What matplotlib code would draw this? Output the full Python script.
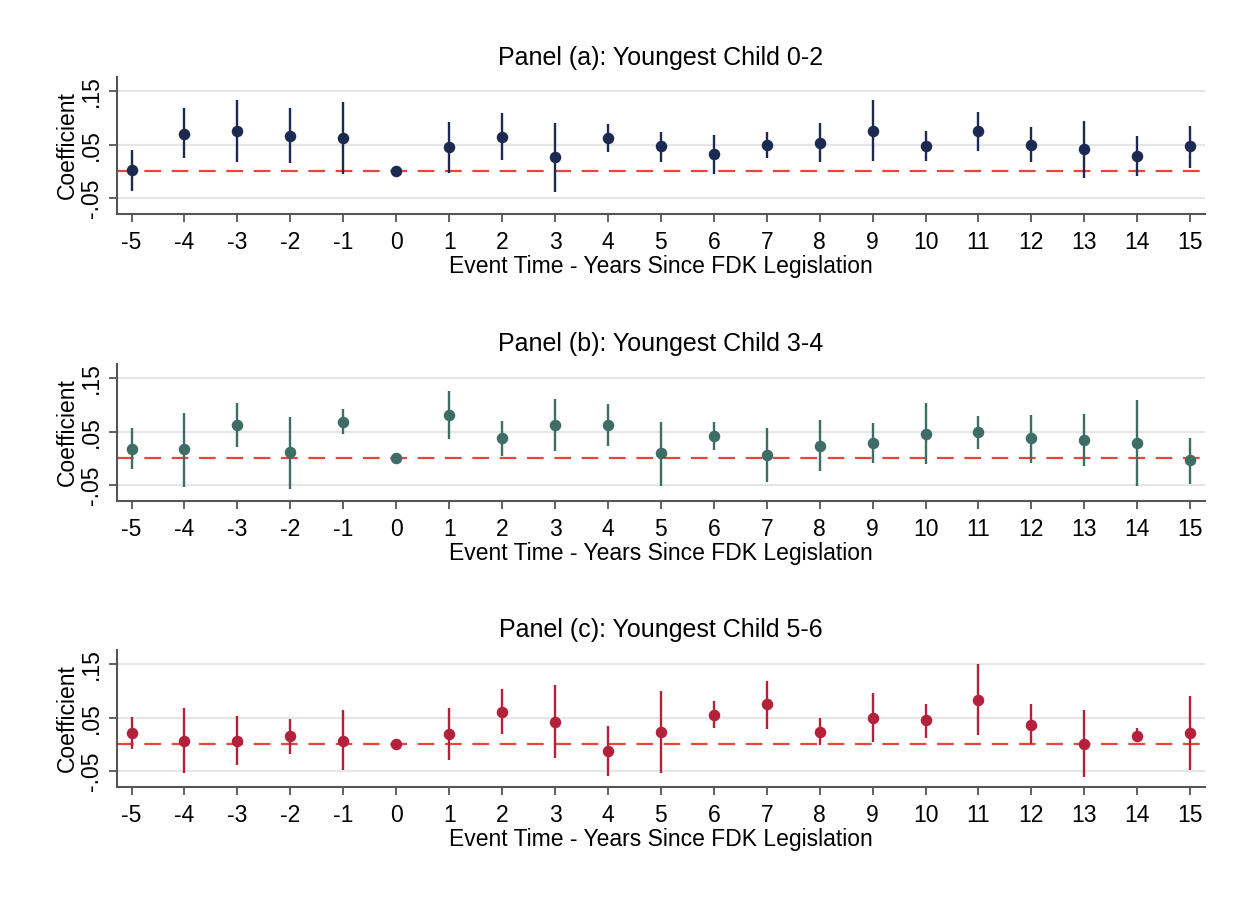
import matplotlib
matplotlib.use("Agg")
import matplotlib.pyplot as plt

plt.rcParams['font.family'] = ['Liberation Sans', 'DejaVu Sans']

event_time = list(range(-5, 16))

# Panel (a): Youngest Child 0-2
coef_a = [0.002, 0.071, 0.075, 0.067, 0.063, 0.000, 0.045, 0.065, 0.026, 0.063,
          0.047, 0.032, 0.050, 0.054, 0.076, 0.048, 0.075, 0.050, 0.041, 0.029, 0.047]
hi_a = [0.040, 0.118, 0.133, 0.119, 0.131, 0.000, 0.092, 0.110, 0.091, 0.088,
        0.074, 0.069, 0.074, 0.090, 0.133, 0.075, 0.112, 0.083, 0.095, 0.067, 0.086]
lo_a = [-0.036, 0.025, 0.018, 0.015, -0.005, 0.000, -0.003, 0.021, -0.039, 0.037,
        0.018, -0.005, 0.025, 0.017, 0.020, 0.020, 0.039, 0.018, -0.013, -0.009, 0.007]

# Panel (b): Youngest Child 3-4
coef_b = [0.018, 0.017, 0.062, 0.011, 0.069, 0.000, 0.082, 0.038, 0.062, 0.062,
          0.010, 0.042, 0.006, 0.024, 0.029, 0.046, 0.049, 0.038, 0.034, 0.029, -0.004]
hi_b = [0.057, 0.086, 0.103, 0.078, 0.092, 0.000, 0.127, 0.070, 0.111, 0.102,
        0.069, 0.069, 0.057, 0.072, 0.066, 0.103, 0.080, 0.082, 0.083, 0.109, 0.039]
lo_b = [-0.020, -0.053, 0.022, -0.057, 0.045, 0.000, 0.036, 0.004, 0.013, 0.023,
        -0.051, 0.015, -0.044, -0.023, -0.008, -0.011, 0.018, -0.008, -0.015, -0.051, -0.048]

# Panel (c): Youngest Child 5-6
coef_c = [0.022, 0.007, 0.007, 0.015, 0.007, 0.000, 0.019, 0.061, 0.042, -0.012,
          0.023, 0.056, 0.075, 0.024, 0.050, 0.045, 0.084, 0.037, 0.001, 0.016, 0.021]
hi_c = [0.052, 0.068, 0.054, 0.048, 0.064, 0.000, 0.068, 0.103, 0.111, 0.035,
        0.100, 0.081, 0.119, 0.049, 0.096, 0.076, 0.151, 0.076, 0.065, 0.030, 0.090]
lo_c = [-0.008, -0.054, -0.039, -0.018, -0.049, 0.000, -0.030, 0.019, -0.026, -0.060,
        -0.054, 0.031, 0.029, -0.001, 0.005, 0.012, 0.017, 0.000, -0.062, 0.004, -0.049]

titles = ["Panel (a): Youngest Child 0-2",
          "Panel (b): Youngest Child 3-4",
          "Panel (c): Youngest Child 5-6"]
colors = ["#1c2a52", "#3d6d64", "#b3223a"]
ytick_vals = [-0.05, 0.05, 0.15]
ytick_labels = ["-.05", ".05", ".15"]
xlabel = "Event Time - Years Since FDK Legislation"
ylabel = "Coefficient"

panels = [(coef_a, lo_a, hi_a), (coef_b, lo_b, hi_b), (coef_c, lo_c, hi_c)]

W, H = 1252, 899
fig = plt.figure(figsize=(W / 100, H / 100), dpi=100)
fig.patch.set_facecolor("white")

# axes boxes in pixels: (top, bottom)
boxes = [(77, 214), (364, 501), (650, 787)]
left_px, right_px = 117, 1205

for (coef, lo, hi), title, col, (top, bot) in zip(panels, titles, colors, boxes):
    ax = fig.add_axes([left_px / W, 1 - bot / H, (right_px - left_px) / W, (bot - top) / H])
    ax.set_xlim(-5.275, 15.28)
    ax.set_ylim(-0.08, 0.177)
    for yv in ytick_vals:
        ax.axhline(yv, color="#e6e6e6", lw=1.6, zorder=0)
    ax.axhline(0, color="#e8453b", lw=1.6, linestyle=(0, (7.5, 4.8)), zorder=1)
    for x, l, h in zip(event_time, lo, hi):
        if h != l:
            ax.plot([x, x], [l, h], color=col, lw=1.7, solid_capstyle="butt", zorder=2)
    ax.plot(event_time, coef, "o", color=col, markersize=8.3, markeredgewidth=0, zorder=3)

    ax.set_xticks(event_time)
    ax.set_xticklabels([str(v) for v in event_time])
    ax.set_yticks(ytick_vals)
    ax.set_yticklabels(ytick_labels, rotation=90, va="center")
    ax.tick_params(axis="both", direction="out", length=6, width=1.3, color="#555555",
                   labelsize=16.5, labelcolor="black")
    ax.tick_params(axis="x", pad=6)
    ax.tick_params(axis="y", pad=4)
    for s in ["top", "right"]:
        ax.spines[s].set_visible(False)
    for s in ["left", "bottom"]:
        ax.spines[s].set_color("#555555")
        ax.spines[s].set_linewidth(1.5)
    ax.set_xlabel(xlabel, fontsize=16.5, labelpad=1)
    ax.set_ylabel(ylabel, fontsize=16.5, labelpad=1)
    ax.set_title(title, fontsize=18, pad=9)

fig.savefig("out.png", dpi=100, facecolor="white")
